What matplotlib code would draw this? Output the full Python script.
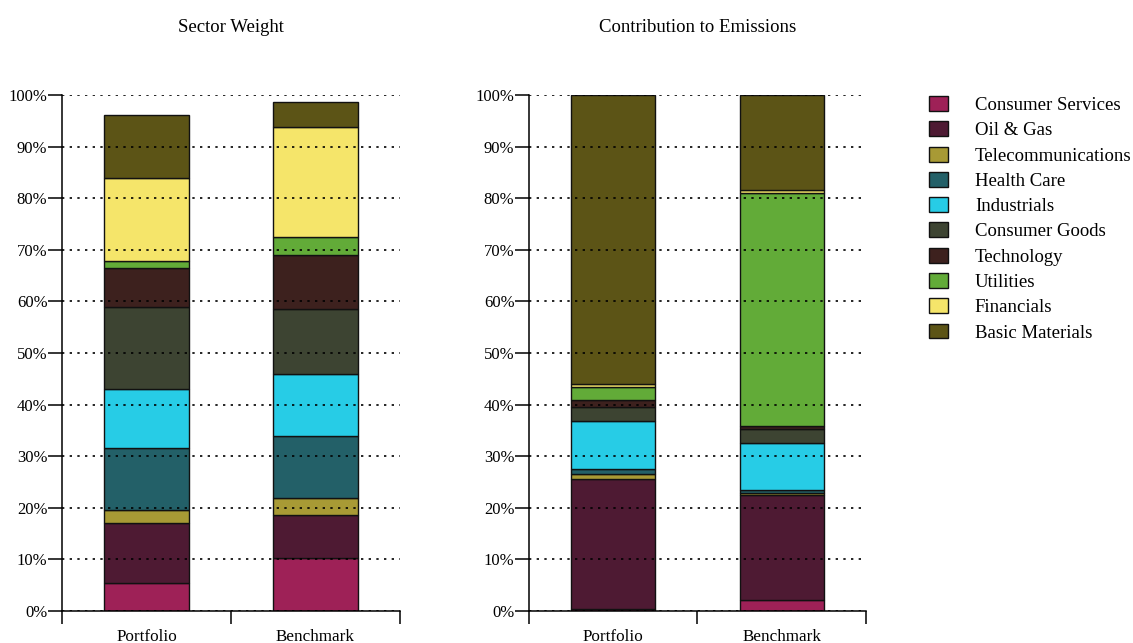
import numpy as np
import matplotlib
matplotlib.use("Agg")
import matplotlib.pyplot as plt
from matplotlib.ticker import PercentFormatter, FixedLocator

plt.rcParams['font.family'] = ['Liberation Serif', 'DejaVu Serif']

# Sektor dan warna (urutan tumpukan dari bawah ke atas)
sectors = ["Consumer Services", "Oil & Gas", "Telecommunications", "Health Care",
           "Industrials", "Consumer Goods", "Technology", "Utilities",
           "Financials", "Basic Materials"]
colors = ["#9e2157", "#4e1a33", "#a89a35", "#236068", "#27cce6",
          "#3d4432", "#3d211e", "#62ab38", "#f5e56a", "#5c5416"]
groups = ["Portfolio", "Benchmark"]

# Bobot sektor (%)
weight_portfolio = [5.4, 11.6, 2.65, 11.85, 11.55, 15.9, 7.5, 1.35, 16.15, 12.2]
weight_benchmark = [10.2, 8.4, 3.3, 12.0, 12.1, 12.5, 10.5, 3.4, 21.4, 4.8]

# Kontribusi emisi (%)
emis_portfolio = [0.4, 25.2, 1.0, 1.0, 9.3, 2.6, 1.3, 2.7, 0.4, 56.1]
emis_benchmark = [2.2, 20.2, 0.5, 0.5, 9.1, 2.8, 0.6, 45.1, 0.6, 18.4]


def stacked(ax, port, bench, title):
    data = np.array([port, bench]) / 100.0
    x = np.arange(len(groups))
    bottom = np.zeros(len(groups))
    for i, name in enumerate(sectors):
        ax.bar(x, data[:, i], width=0.5, bottom=bottom, color=colors[i],
               edgecolor="#111111", linewidth=1.0, label=name, zorder=2)
        bottom += data[:, i]

    ax.set_xlim(-0.5, 1.5)
    ax.set_ylim(0, 1)
    ax.yaxis.set_major_locator(FixedLocator(np.linspace(0, 1, 11)))
    ax.yaxis.set_major_formatter(PercentFormatter(1.0, decimals=0))
    ax.set_axisbelow(False)
    ax.grid(axis="y", color="black", linestyle=(0, (1.4, 3.2)), linewidth=1.2, zorder=4)

    # tick di batas kategori, label di tengah
    ax.set_xticks([-0.5, 0.5, 1.5])
    ax.set_xticklabels([])
    ax.set_xticks(x, minor=True)
    ax.set_xticklabels(groups, minor=True)
    ax.tick_params(axis="x", which="major", direction="out", length=9, width=1.1)
    ax.tick_params(axis="x", which="minor", length=0, pad=13, labelsize=12.3)
    ax.tick_params(axis="y", direction="out", length=10, width=1.1, pad=0.5, labelsize=12)

    for s in ["top", "right"]:
        ax.spines[s].set_visible(False)
    for s in ["left", "bottom"]:
        ax.spines[s].set_linewidth(1.1)
        ax.spines[s].set_zorder(5)
    ax.set_title(title, fontsize=13.5, pad=45.5)


fig = plt.figure(figsize=(11.33, 6.43), dpi=100)
ax1 = fig.add_axes([0.0547, 0.0498, 0.2983, 0.8025])
ax2 = fig.add_axes([0.4669, 0.0498, 0.2974, 0.8025])

stacked(ax1, weight_portfolio, weight_benchmark, "Sector Weight")
stacked(ax2, emis_portfolio, emis_benchmark, "Contribution to Emissions")

handles, labels = ax2.get_legend_handles_labels()
fig.legend(handles, labels, loc="upper left", bbox_to_anchor=(929 / 1133, 1 - 96 / 643),
           frameon=False, fontsize=13.5, handlelength=1.0, handleheight=0.85,
           handletextpad=1.45, labelspacing=0.39, borderpad=0, borderaxespad=0)

fig.savefig("out.png", dpi=100)
